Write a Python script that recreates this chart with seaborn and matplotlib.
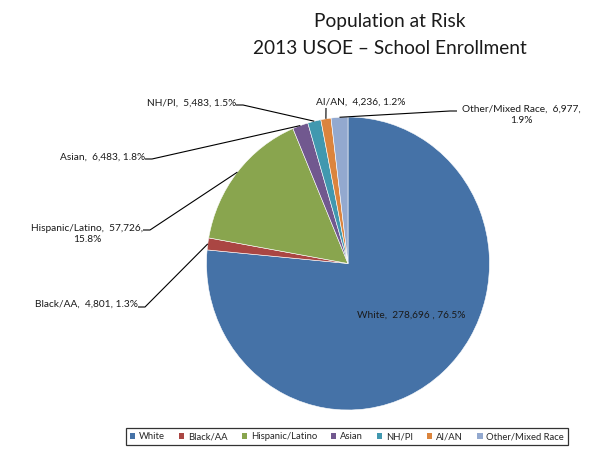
import numpy as np
import matplotlib
matplotlib.use("Agg")
import matplotlib.pyplot as plt
from matplotlib.patches import Patch
import seaborn as sns

# Enrollment by race/ethnicity
groups = ["White", "Black/AA", "Hispanic/Latino", "Asian", "NH/PI", "AI/AN", "Other/Mixed Race"]
counts = [278696, 4801, 57726, 6483, 5483, 4236, 6977]
pct_labels = ["76.5%", "1.3%", "15.8%", "1.8%", "1.5%", "1.2%", "1.9%"]
count_labels = ["278,696", "4,801", "57,726", "6,483", "5,483", "4,236", "6,977"]

title_lines = ["Population at Risk", "2013 USOE \u2013 School Enrollment"]

sns.set_theme(style="white")
plt.rcParams["font.family"] = ["Lato", "DejaVu Sans"]
palette = sns.color_palette(["#4572A7", "#AA4643", "#89A54E", "#71588F",
                             "#4198AF", "#DB843D", "#93A9CF"])

W, H = 590, 449
fig = plt.figure(figsize=(W / 100, H / 100), dpi=100)
ax = fig.add_axes([0, 0, 1, 1])

# pixel-based frame: pie centred at (CX, CY), radii RX / RY in px
CX, CY, RX, RY = 348, 263.5, 141.5, 146.5


def px(x, y):
    return (x - CX) / RX, (CY - y) / RY


wedges, _ = ax.pie(counts, colors=palette, startangle=90, counterclock=False,
                   radius=1.0, center=(0, 0),
                   wedgeprops=dict(edgecolor="white", linewidth=0.4))
ax.set_xlim(-CX / RX, (W - CX) / RX)
ax.set_ylim(-(H - CY) / RY, CY / RY)
ax.set_aspect("auto")
ax.axis("off")


def mid_point(w):
    a = np.deg2rad((w.theta1 + w.theta2) / 2)
    return np.cos(a), np.sin(a)


lab_fs = 7.3
line_kw = dict(color="black", lw=0.8, solid_capstyle="butt")


def text_of(i, sep=", "):
    return f"{groups[i]},  {count_labels[i]}{sep}{pct_labels[i]}"


# White label inside its slice
ax.text(*px(411, 315), f"{groups[0]},  {count_labels[0]} , {pct_labels[0]}",
        ha="center", va="center", fontsize=lab_fs, color="#1a1a1a")

# left-side labels with leader lines (text right end, line y, text y)
left_specs = {
    1: (138, 307, 304, text_of(1)),
    2: (143, 230, 234, f"{groups[2]},  {count_labels[2]},\n{pct_labels[2]}"),
    3: (145, 159, 157, text_of(3)),
    4: (236, 105, 103, text_of(4)),
}
for i, (xe, yl, yt, txt) in left_specs.items():
    ax.text(*px(xe, yt), txt, ha="right", va="center", fontsize=lab_fs,
            multialignment="center", color="#1a1a1a")
    mx, my = mid_point(wedges[i])
    p0, p1 = px(xe, yl), px(xe + 7, yl)
    ax.plot([p0[0], p1[0], mx], [p0[1], p1[1], my], **line_kw)

# AI/AN label above the pie
ax.text(*px(316, 102), text_of(5), ha="left", va="center", fontsize=lab_fs,
        color="#1a1a1a")
mx, my = mid_point(wedges[5])
p0 = px(326, 108)
ax.plot([p0[0], mx], [p0[1], my], **line_kw)

# Other/Mixed Race label on the right
ax.text(*px(521, 115), f"{groups[6]},  {count_labels[6]},\n{pct_labels[6]}",
        ha="center", va="center", fontsize=lab_fs, multialignment="center",
        color="#1a1a1a", linespacing=1.3)
mx, my = mid_point(wedges[6])
p0, p1 = px(457, 111), px(450, 111)
ax.plot([p0[0], p1[0], mx], [p0[1], p1[1], my], **line_kw)

# title
fig.text(390 / W, 1 - 22 / H, title_lines[0], ha="center", va="center",
         fontsize=13.8, color="#1a1a1a")
fig.text(390 / W, 1 - 49 / H, title_lines[1], ha="center", va="center",
         fontsize=13.8, color="#1a1a1a")

# legend
handles = [Patch(facecolor=c, edgecolor="none") for c in palette]
leg = fig.legend(handles, groups, loc="center", ncol=7,
                 bbox_to_anchor=(347 / W, 1 - 436.5 / H),
                 fontsize=6.8, frameon=True, fancybox=False,
                 handlelength=0.55, handleheight=0.55, handletextpad=0.4,
                 columnspacing=1.5, borderpad=0.4, borderaxespad=0)
leg.get_frame().set_edgecolor("black")
leg.get_frame().set_linewidth(0.9)

fig.savefig("out.png", dpi=100)
